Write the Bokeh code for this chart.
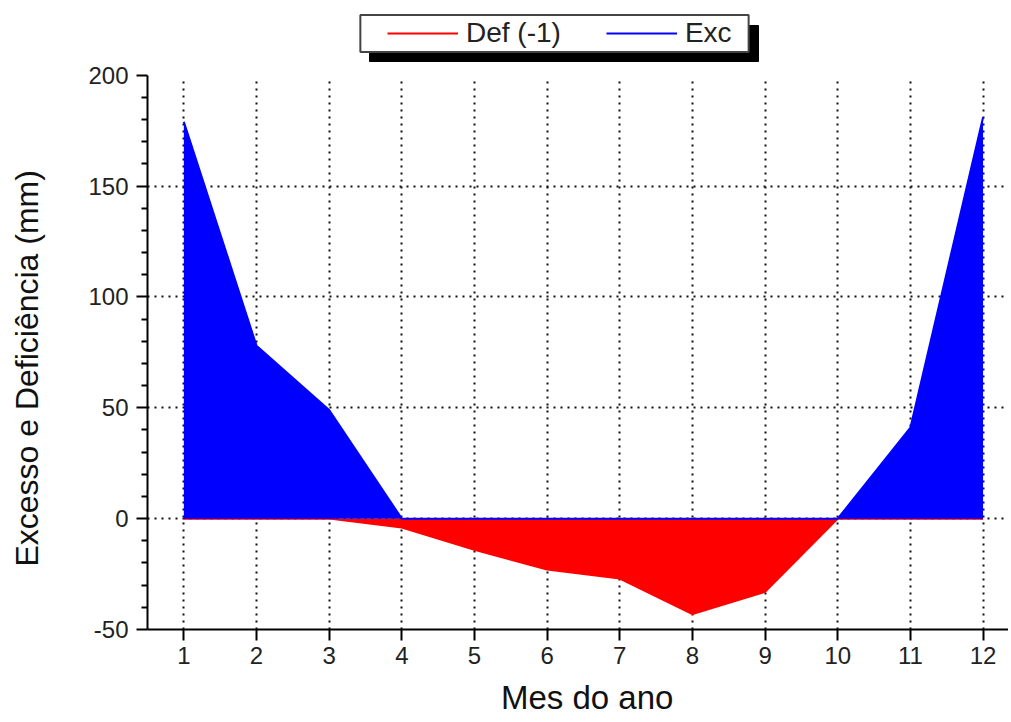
from bokeh.plotting import figure
from bokeh.models import (Range1d, FixedTicker, Legend, LegendItem, BoxAnnotation,
                          Label, PrintfTickFormatter)
from bokeh.embed import file_html
from bokeh.resources import INLINE

# ---- data ----
months = [1, 2, 3, 4, 5, 6, 7, 8, 9, 10, 11, 12]
exc = [179, 78, 49, 0, 0, 0, 0, 0, 0, 0, 41, 181]
deficit = [0, 0, 0, -4, -14, -23, -27, -43, -33, 0, 0, 0]
x_ticks = [1, 2, 3, 4, 5, 6, 7, 8, 9, 10, 11, 12]
y_ticks = [-50, 0, 50, 100, 150, 200]
y_grid = [0, 50, 100, 150]
y_minor = [v for v in range(-50, 201, 10) if v % 50 != 0]
series_names = ["Def (-1)", "Exc"]

FONT = "Liberation Sans"
NBSP = "\u00a0"

# frame reaches the top of the canvas so the legend (drawn inside it) is not clipped
p = figure(width=1008, height=718, output_backend="svg", toolbar_location=None,
           x_range=Range1d(0.5, 12.35), y_range=Range1d(-50, 233.66),
           min_border_left=147, min_border_right=0, min_border_top=0,
           min_border_bottom=86)
p.outline_line_color = None
p.background_fill_color = "white"

# areas and lines
p.varea(x=months, y1=deficit, y2=[0] * len(months), fill_color="#ff0000")
r_def = p.line(months, deficit, line_color="#ff0000", line_width=2)
p.varea(x=months, y1=[0] * len(months), y2=exc, fill_color="#0000ff")
r_exc = p.line(months, exc, line_color="#0000ff", line_width=2)

# axes
p.xaxis.ticker = FixedTicker(ticks=x_ticks)
p.yaxis.ticker = FixedTicker(ticks=y_ticks, minor_ticks=y_minor)
p.yaxis.formatter = PrintfTickFormatter(format="%d")
p.yaxis.bounds = (-50, 200)
for ax in (p.xaxis, p.yaxis):
    ax.axis_line_color = "black"
    ax.axis_line_width = 2
    ax.major_tick_line_color = "black"
    ax.major_tick_line_width = 2
    ax.major_tick_out = 11
    ax.major_tick_in = 0
    ax.minor_tick_line_color = "black"
    ax.minor_tick_line_width = 2
    ax.minor_tick_out = 6
    ax.minor_tick_in = 0
    ax.major_label_text_font = FONT
    ax.major_label_text_font_size = "24px"
    ax.major_label_text_color = "#222222"
    ax.axis_label_text_font = FONT
    ax.axis_label_text_font_style = "normal"
    ax.axis_label_text_color = "#111111"
p.xaxis.axis_label_text_font_size = "33px"
p.yaxis.axis_label_text_font_size = "32px"
p.xaxis.minor_tick_line_color = None
p.xaxis.major_label_standoff = 6
p.yaxis.major_label_standoff = 8
p.xaxis.axis_label = NBSP * 2 + "Mes do ano"
# trailing no-break spaces shift the visible label down to sit beside the data area
p.yaxis.axis_label = "Excesso e Deficiência (mm)" + NBSP * 12
p.xaxis.axis_label_standoff = 12
p.yaxis.axis_label_standoff = 40

# grid
p.xgrid.ticker = FixedTicker(ticks=x_ticks)
p.xgrid.cross_bounds = (-50, 198)
p.ygrid.ticker = FixedTicker(ticks=y_grid)
for g in (p.xgrid, p.ygrid):
    g.grid_line_color = "#111111"
    g.grid_line_width = 2
    g.grid_line_dash = "2 5"

# legend box with shadow (frame-relative screen units, y up)
shadow = BoxAnnotation(left=222, right=611, top=604, bottom=568,
                       left_units="screen", right_units="screen",
                       top_units="screen", bottom_units="screen",
                       fill_color="black", fill_alpha=1.0,
                       line_color="black", line_alpha=1.0)
p.add_layout(shadow)
box = Label(x=407, y=596, x_units="screen", y_units="screen", text=" ",
            text_font_size="1px", text_align="center", text_baseline="middle",
            background_fill_color="white", background_fill_alpha=1.0,
            border_line_color="#444444", border_line_width=2,
            padding=dict(left=194, right=194, top=18, bottom=18))
p.add_layout(box)

legend = Legend(items=[LegendItem(label=series_names[0], renderers=[r_def]),
                       LegendItem(label=series_names[1], renderers=[r_exc])],
                location=(240, 580), orientation="horizontal",
                padding=0, margin=0, spacing=45, glyph_width=71,
                glyph_height=28, label_height=28, label_standoff=8,
                label_text_font=FONT, label_text_font_size="28px",
                label_text_color="#222222",
                background_fill_alpha=0, border_line_color=None)
p.add_layout(legend)

open("out.html", "w").write(file_html(p, INLINE))
